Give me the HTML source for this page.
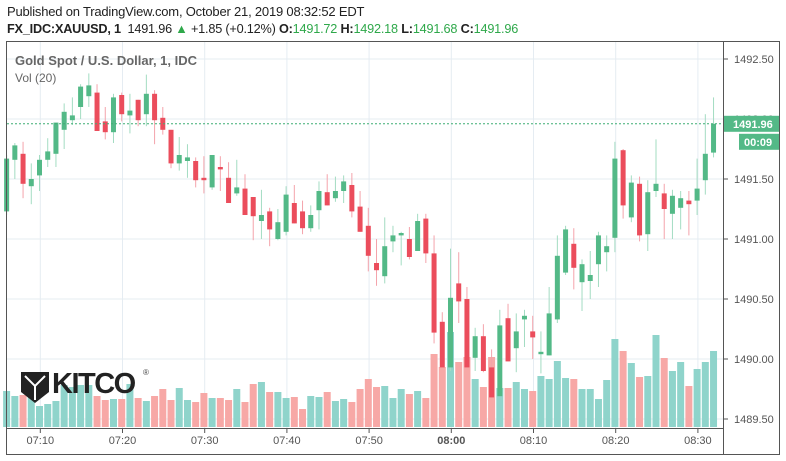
<!DOCTYPE html>
<html><head><meta charset="utf-8"><style>
html,body{margin:0;padding:0;background:#fff;width:786px;height:461px;overflow:hidden;font-family:"Liberation Sans",sans-serif;}
#hdr1{position:absolute;left:7px;top:4px;font-size:13px;color:#222;letter-spacing:-0.2px}
#hdr2{position:absolute;left:7px;top:22px;font-size:12.7px;color:#222;letter-spacing:-0.2px}
#hdr2 b{font-weight:bold}
.g{color:#2ea84a}
svg{position:absolute;left:0;top:0}
</style></head><body>
<div id="hdr1">Published on TradingView.com, October 21, 2019 08:32:52 EDT</div>
<div id="hdr2"><b>FX_IDC:XAUUSD, 1</b>&nbsp; 1491.96 <span class="g">▲</span> +1.85 (+0.12%) <b>O:</b><span class="g">1491.72</span> <b>H:</b><span class="g">1492.18</span> <b>L:</b><span class="g">1491.68</span> <b>C:</b><span class="g">1491.96</span></div>
<svg id="chart" width="786" height="461"></svg>
<script>
const opens=[1491.23,1491.66,1491.71,1491.44,1491.53,1491.66,1491.71,1491.91,1491.99,1492.10,1492.19,1492.22,1491.98,1491.89,1492.20,1492.03,1492.16,1492.04,1492.21,1492.01,1491.91,1491.63,1491.65,1491.65,1491.51,1491.43,1491.60,1491.51,1491.38,1491.42,1491.35,1491.15,1491.23,1491.00,1491.06,1491.30,1491.23,1491.09,1491.24,1491.39,1491.34,1491.40,1491.45,1491.27,1491.11,1490.80,1490.69,1490.98,1491.03,1491.00,1490.90,1491.17,1490.88,1490.31,1489.93,1490.63,1490.50,1490.01,1490.19,1489.93,1489.69,1490.34,1490.09,1490.33,1490.23,1490.04,1490.03,1490.33,1490.72,1490.96,1490.64,1490.65,1490.79,1490.89,1491.01,1491.74,1491.18,1491.46,1491.04,1491.40,1491.38,1491.21,1491.26,1491.32,1491.32,1491.49,1491.72];
const highs=[1491.70,1491.80,1491.81,1491.63,1491.70,1491.84,1491.97,1492.13,1492.18,1492.29,1492.38,1492.29,1492.10,1492.21,1492.22,1492.21,1492.16,1492.37,1492.24,1492.10,1491.91,1491.85,1491.79,1491.68,1491.69,1491.70,1491.69,1491.64,1491.66,1491.54,1491.35,1491.41,1491.26,1491.25,1491.44,1491.45,1491.32,1491.28,1491.48,1491.54,1491.52,1491.53,1491.55,1491.40,1491.26,1491.00,1491.18,1491.11,1491.06,1491.10,1491.21,1491.21,1491.03,1490.39,1490.92,1490.89,1490.60,1490.26,1490.29,1490.08,1490.41,1490.46,1490.38,1490.41,1490.36,1490.23,1490.60,1491.03,1491.11,1491.09,1490.83,1490.90,1491.06,1491.03,1491.81,1491.75,1491.53,1491.52,1491.49,1491.83,1491.46,1491.41,1491.40,1491.40,1491.67,1492.04,1492.18];
const lows=[1491.20,1491.50,1491.34,1491.29,1491.40,1491.60,1491.60,1491.75,1491.95,1492.00,1492.10,1491.90,1491.83,1491.80,1491.98,1491.88,1491.94,1491.94,1491.79,1491.87,1491.59,1491.57,1491.51,1491.43,1491.38,1491.41,1491.40,1491.30,1491.36,1491.20,1490.99,1491.00,1490.94,1490.99,1491.03,1491.13,1491.04,1491.06,1491.08,1491.28,1491.31,1491.30,1491.18,1491.06,1490.73,1490.61,1490.63,1490.89,1490.78,1490.83,1490.90,1490.80,1490.13,1489.93,1489.90,1490.30,1489.93,1489.90,1489.89,1489.68,1489.69,1489.98,1489.89,1490.10,1490.00,1489.88,1490.03,1490.30,1490.70,1490.58,1490.40,1490.50,1490.60,1490.73,1490.89,1491.17,1491.14,1490.98,1490.90,1491.35,1491.00,1491.00,1491.08,1491.03,1491.20,1491.37,1491.68];
const closes=[1491.67,1491.78,1491.46,1491.50,1491.66,1491.73,1491.97,1492.06,1492.03,1492.27,1492.28,1491.90,1491.89,1492.18,1492.04,1492.07,1491.99,1492.21,1491.99,1491.91,1491.63,1491.70,1491.68,1491.49,1491.49,1491.70,1491.58,1491.30,1491.43,1491.20,1491.19,1491.20,1491.08,1491.14,1491.37,1491.13,1491.09,1491.20,1491.40,1491.28,1491.40,1491.48,1491.23,1491.06,1490.86,1490.74,1490.94,1491.03,1491.05,1490.85,1491.15,1490.88,1490.22,1489.93,1490.51,1490.48,1489.93,1490.19,1489.90,1489.68,1490.28,1489.98,1490.23,1490.36,1490.18,1490.06,1490.38,1490.86,1491.08,1490.76,1490.79,1490.70,1491.03,1490.94,1491.67,1491.28,1491.47,1491.03,1491.39,1491.46,1491.25,1491.36,1491.34,1491.29,1491.42,1491.71,1491.96];
const volumes=[36,31,32,35,21,23,26,42,40,42,42,31,27,28,28,43,29,26,31,38,27,39,27,25,34,29,29,27,38,25,43,45,35,35,29,30,18,31,30,35,26,28,25,38,48,40,41,29,38,33,36,29,73,60,95,65,70,48,40,70,39,39,45,38,36,51,48,66,49,48,38,38,28,47,88,76,64,50,51,92,69,56,65,41,58,65,76];
const priceTicks=[1489.5,1490.0,1490.5,1491.0,1491.5,1492.0,1492.5];
const timeTicks=["07:10","07:20","07:30","07:40","07:50","08:00","08:10","08:20","08:30"];
const firstMinute=6;
const lastPrice=1491.96;

const NS="http://www.w3.org/2000/svg";
const svg=document.getElementById('chart');
function el(t,a,p){const e=document.createElementNS(NS,t);for(const k in a)e.setAttribute(k,a[k]);(p||svg).appendChild(e);return e;}
const yP=p=>359-(p-1490)*120;
const xM=m=>40.3+(m-10)*8.22-0.8;
const yV=v=>427-v;

const grid=el('g',{});


priceTicks.forEach(p=>{el('line',{x1:7,x2:723,y1:yP(p),y2:yP(p),stroke:'#e5ecf2','stroke-width':1},grid);});
timeTicks.forEach((t,i)=>{const x=xM(10+i*10)+0.8;el('line',{x1:x,x2:x,y1:41,y2:428,stroke:'#e5ecf2','stroke-width':1},grid);});

const vg=el('g',{});


volumes.forEach((v,i)=>{
  const up=closes[i]>=opens[i];
  const r=el('rect',{x:xM(firstMinute+i)-3.5,y:yV(v),width:7,height:v,fill:up?'#8fd4cb':'#f7a8a6'},vg);
  
  
});

const cg=el('g',{});


opens.forEach((o,i)=>{
  const c=closes[i],x=xM(firstMinute+i),up=c>=o;
  const g=el('g',{},cg);
  
  
  el('line',{x1:x,x2:x,y1:yP(highs[i]),y2:yP(lows[i]),stroke:up?'#a3dcc2':'#f4a3ab','stroke-width':1},g);
  const t=yP(Math.max(o,c)),b=yP(Math.min(o,c));
  el('rect',{x:x-2.5,y:t,width:5,height:Math.max(1.5,b-t),fill:up?'#53b987':'#eb4d5c'},g);
});

const lp=el('line',{x1:7,x2:723,y1:yP(lastPrice),y2:yP(lastPrice),stroke:'#3fae74','stroke-width':1,'stroke-dasharray':'2,2'});



const fr=el('g',{});


el('rect',{x:6.5,y:41.5,width:773,height:413,fill:'none',stroke:'#555','stroke-width':1},fr);
el('line',{x1:723.5,x2:723.5,y1:41,y2:455,stroke:'#555','stroke-width':1},fr);
el('line',{x1:6,x2:724,y1:428.5,y2:428.5,stroke:'#555','stroke-width':1},fr);

const pa=el('g',{});


priceTicks.forEach(p=>{
  el('line',{x1:724,x2:728,y1:yP(p),y2:yP(p),stroke:'#555'},pa);
  const t=el('text',{x:734,y:yP(p)+4,'font-size':11,fill:'#555','font-family':'Liberation Sans, sans-serif'},pa);
  t.textContent=p.toFixed(2);
  
  
});
const ta=el('g',{});


timeTicks.forEach((lab,i)=>{
  const x=xM(10+i*10)+0.8;
  el('line',{x1:x,x2:x,y1:429,y2:433,stroke:'#555'},ta);
  const t=el('text',{x:x,y:444,'font-size':11,fill:'#555','text-anchor':'middle','font-weight':lab==='08:00'?'bold':'normal','font-family':'Liberation Sans, sans-serif'},ta);
  t.textContent=lab;
  
  
});

const pl=el('g',{});


el('rect',{x:724,y:yP(lastPrice)-8,width:55,height:16,fill:'#53b987'},pl);
const plt=el('text',{x:733,y:yP(lastPrice)+4,'font-size':11,fill:'#fff','font-weight':'bold','font-family':'Liberation Sans, sans-serif'},pl);
plt.textContent=lastPrice.toFixed(2);
el('rect',{x:739,y:yP(lastPrice)+10,width:40,height:16,fill:'#53b987'},pl);
const tmt=el('text',{x:744,y:yP(lastPrice)+22,'font-size':11,fill:'#fff','font-weight':'bold','font-family':'Liberation Sans, sans-serif'},pl);
tmt.textContent='00:09';

const tt=el('text',{x:15,y:65,'font-size':13,fill:'#666','font-weight':'bold','font-family':'Liberation Sans, sans-serif'});
tt.textContent='Gold Spot / U.S. Dollar, 1, IDC';


const vt=el('text',{x:15,y:82,'font-size':12,fill:'#666','font-family':'Liberation Sans, sans-serif'});
vt.textContent='Vol (20)';



const lg=el('g',{});


el('path',{d:'M21 372 L49 372 L49 392 L35 403 L21 392 Z',fill:'#222'},lg);
el('path',{d:'M25 376 L35 386 L45 376 M35 386 L35 400',stroke:'#fff','stroke-width':2,fill:'none'},lg);
const kt=el('text',{x:52,y:393,'font-size':29,fill:'#222','font-family':'Liberation Sans, sans-serif','font-weight':'bold','letter-spacing':'-1.5'},lg);
kt.textContent='KITCO';
const rt=el('text',{x:143,y:375,'font-size':8,fill:'#444','font-family':'Liberation Sans, sans-serif'},lg);
rt.textContent='®';
</script>
</body></html>
